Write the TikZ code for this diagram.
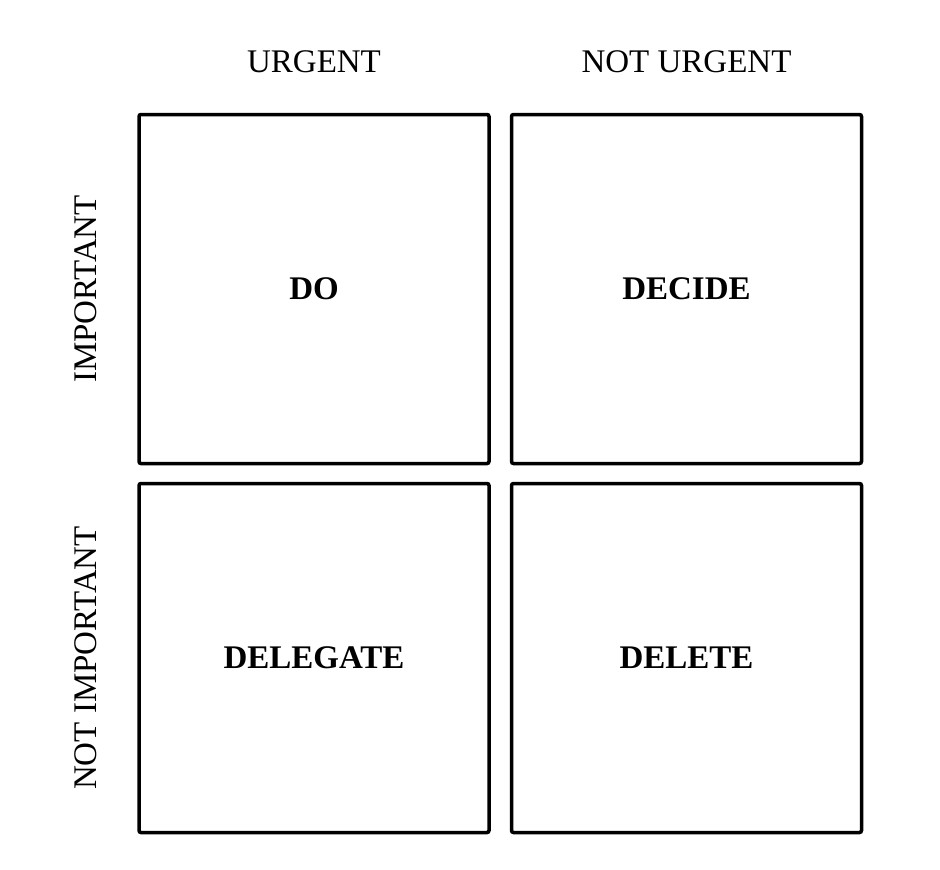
\documentclass[tikz,border=0pt]{standalone}
\usepackage{fontspec}
\setmainfont{Liberation Serif}
\begin{document}
\begin{tikzpicture}[x=1pt,y=-1pt,
  box/.style={draw=black,line width=3.5pt,rounded corners=2pt,minimum width=350pt,minimum height=349pt,inner sep=0pt,font=\fontsize{33}{36}\selectfont\bfseries},
  lab/.style={font=\fontsize{33}{36}\selectfont,inner sep=0pt}]
\useasboundingbox (0,0) rectangle (940,870);
\node[box] (do) at (314,289) {DO};
\node[box] (decide) at (686.5,289) {DECIDE};
\node[box] (delegate) at (314,658) {DELEGATE};
\node[box] (delete) at (686.5,658) {DELETE};
\node[lab] (u) at (314,62) {URGENT};
\node[lab] (nu) at (686.5,62) {NOT URGENT};
\node[lab,rotate=90] (im) at (86,289) {IMPORTANT};
\node[lab,rotate=90] (nim) at (86,658) {NOT IMPORTANT};
\end{tikzpicture}
\end{document}
